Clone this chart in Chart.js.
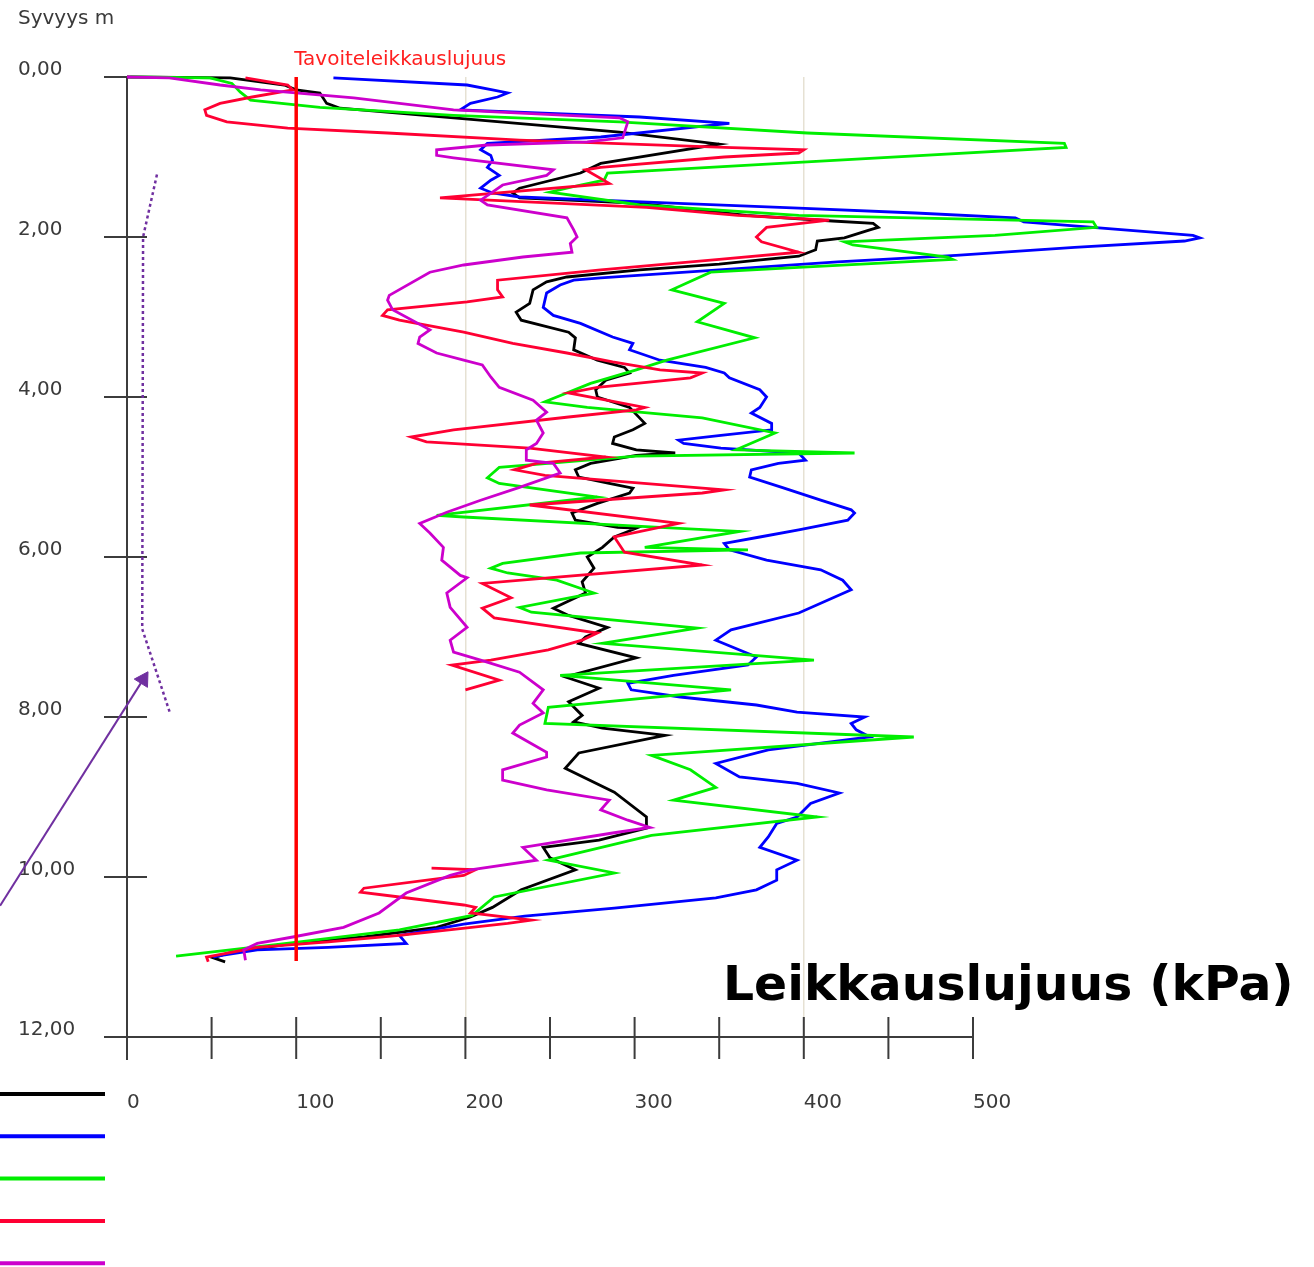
<!DOCTYPE html>
<html>
<head>
<meta charset="utf-8">
<script src="https://cdn.jsdelivr.net/npm/chart.js@4.4.1/dist/chart.umd.min.js"></script>
<style>
  html, body { margin: 0; padding: 0; background: #fff; }
</style>
</head>
<body>
<canvas id="profileChart" width="1314" height="1267"></canvas>
<script>
// [leikkauslujuus kPa, syvyys m]
const black = [[0,0],[61,0.01],[93,0.10],[100,0.16],[114,0.20],[118,0.33],[126,0.39],[291,0.69],[350,0.84],[280,1.08],[268,1.20],[232,1.39],[228,1.45],[232,1.51],[303,1.58],[366,1.73],[417,1.80],[441,1.83],[444,1.88],[439,1.91],[424,2.01],[408,2.05],[407,2.16],[397,2.24],[373,2.29],[350,2.34],[303,2.41],[260,2.50],[248,2.56],[240,2.66],[238,2.83],[230,2.94],[233,3.04],[261,3.19],[265,3.26],[264,3.41],[278,3.54],[294,3.63],[297,3.70],[283,3.79],[277,3.91],[278,4.00],[297,4.13],[306,4.33],[299,4.41],[288,4.50],[287,4.58],[301,4.66],[324,4.70],[301,4.73],[274,4.83],[265,4.91],[267,5.00],[285,5.08],[299,5.14],[297,5.20],[278,5.33],[263,5.45],[265,5.54],[290,5.63],[301,5.64],[288,5.75],[281,5.88],[272,6.00],[276,6.14],[269,6.31],[271,6.45],[252,6.64],[261,6.73],[284,6.88],[271,7.00],[267,7.08],[301,7.26],[259,7.50],[279,7.64],[261,7.81],[269,7.98],[264,8.06],[281,8.14],[318,8.23],[267,8.45],[259,8.64],[288,8.94],[307,9.25],[307,9.39],[279,9.54],[246,9.63],[250,9.76],[265,9.91],[233,10.16],[216,10.38],[203,10.50],[183,10.63],[140,10.75],[98,10.83],[60,10.95],[51,11.01],[58,11.06]];

const blue = [[122,0.01],[201,0.10],[216,0.16],[225,0.20],[219,0.25],[203,0.33],[197,0.41],[303,0.50],[356,0.58],[280,0.75],[213,0.83],[209,0.91],[215,0.98],[216,1.04],[213,1.13],[220,1.23],[215,1.29],[209,1.39],[216,1.45],[232,1.50],[326,1.58],[397,1.64],[466,1.70],[525,1.76],[530,1.81],[630,1.98],[634,2.01],[625,2.05],[560,2.13],[490,2.23],[420,2.31],[350,2.41],[280,2.51],[264,2.54],[256,2.60],[248,2.70],[246,2.88],[252,2.98],[268,3.08],[287,3.25],[299,3.33],[297,3.41],[315,3.54],[342,3.63],[353,3.70],[356,3.76],[374,3.91],[378,4.00],[374,4.13],[369,4.20],[381,4.33],[381,4.41],[351,4.48],[326,4.54],[329,4.58],[351,4.64],[397,4.70],[401,4.79],[385,4.83],[369,4.91],[368,5.00],[387,5.13],[410,5.29],[428,5.41],[430,5.45],[426,5.54],[397,5.66],[374,5.75],[353,5.83],[356,5.91],[378,6.04],[410,6.16],[423,6.29],[428,6.41],[397,6.70],[357,6.91],[348,7.04],[372,7.25],[367,7.35],[323,7.48],[296,7.58],[298,7.66],[327,7.75],[372,7.85],[396,7.94],[436,8.00],[428,8.08],[431,8.16],[439,8.25],[379,8.41],[348,8.58],[362,8.75],[396,8.83],[421,8.95],[404,9.08],[396,9.25],[384,9.33],[379,9.50],[374,9.63],[396,9.79],[384,9.91],[384,10.04],[372,10.16],[348,10.26],[288,10.39],[235,10.49],[199,10.59],[161,10.73],[165,10.83],[119,10.88],[77,10.91],[56,10.98],[51,11.00]];

const green = [[2,0],[49,0.01],[62,0.08],[67,0.19],[73,0.29],[114,0.38],[193,0.48],[291,0.56],[402,0.70],[554,0.83],[555,0.88],[402,1.06],[284,1.20],[282,1.29],[268,1.35],[250,1.44],[303,1.60],[397,1.73],[571,1.81],[573,1.88],[513,1.98],[424,2.06],[429,2.10],[485,2.25],[488,2.28],[397,2.38],[345,2.44],[322,2.66],[353,2.83],[337,3.06],[371,3.26],[319,3.54],[301,3.66],[274,3.83],[247,4.06],[272,4.13],[340,4.26],[383,4.45],[360,4.66],[430,4.70],[301,4.74],[220,4.88],[213,5.01],[220,5.08],[278,5.25],[183,5.48],[199,5.50],[315,5.63],[362,5.68],[306,5.88],[367,5.91],[268,5.95],[222,6.08],[215,6.14],[225,6.20],[254,6.29],[276,6.45],[232,6.63],[239,6.69],[337,6.89],[281,7.08],[406,7.29],[256,7.48],[357,7.66],[249,7.88],[247,8.08],[465,8.25],[310,8.48],[333,8.66],[348,8.88],[323,9.04],[408,9.25],[310,9.48],[249,9.79],[288,9.95],[217,10.25],[204,10.48],[161,10.66],[102,10.81],[29,10.99]];

// red profile has a gap between 7.7 m and 9.9 m
const red = [[70,0.01],[95,0.10],[98,0.16],[74,0.25],[55,0.33],[46,0.41],[47,0.48],[59,0.56],[95,0.64],[154,0.70],[232,0.79],[353,0.88],[400,0.91],[397,0.95],[353,1.00],[280,1.13],[271,1.16],[285,1.33],[185,1.51],[307,1.63],[361,1.73],[415,1.79],[378,1.88],[372,2.00],[375,2.06],[397,2.19],[350,2.28],[280,2.41],[219,2.54],[219,2.66],[222,2.75],[201,2.81],[154,2.91],[151,2.98],[161,3.04],[199,3.19],[228,3.33],[260,3.45],[287,3.56],[315,3.66],[340,3.70],[333,3.76],[278,3.88],[261,3.95],[306,4.13],[301,4.16],[261,4.25],[193,4.41],[168,4.50],[177,4.56],[238,4.64],[283,4.75],[242,4.83],[229,4.91],[247,4.98],[353,5.16],[340,5.20],[238,5.35],[326,5.58],[288,5.75],[294,5.94],[340,6.10],[210,6.33],[227,6.51],[210,6.64],[217,6.76],[278,6.95],[269,7.04],[249,7.16],[215,7.29],[192,7.35],[220,7.54],[200,7.66],[null,null],[180,9.89],[206,9.91],[199,9.98],[140,10.14],[138,10.19],[161,10.25],[199,10.35],[206,10.38],[203,10.45],[239,10.54],[225,10.58],[161,10.73],[119,10.81],[77,10.88],[47,11.00],[48,11.06]];

const purple = [[0,0],[25,0.01],[55,0.10],[79,0.16],[134,0.26],[193,0.41],[291,0.51],[296,0.56],[293,0.76],[272,0.81],[213,0.85],[183,0.91],[183,0.98],[193,1.01],[252,1.16],[248,1.23],[222,1.35],[216,1.44],[209,1.54],[213,1.60],[260,1.76],[264,1.91],[266,2.00],[262,2.08],[263,2.19],[234,2.25],[199,2.35],[179,2.44],[155,2.73],[154,2.79],[157,2.91],[179,3.16],[173,3.25],[172,3.33],[183,3.45],[199,3.54],[210,3.60],[215,3.75],[220,3.88],[240,4.04],[248,4.19],[242,4.29],[246,4.45],[242,4.58],[236,4.66],[236,4.79],[252,4.83],[256,4.95],[232,5.13],[209,5.29],[189,5.44],[173,5.58],[179,5.70],[187,5.88],[186,6.04],[197,6.23],[201,6.26],[189,6.45],[191,6.63],[201,6.88],[191,7.04],[193,7.19],[209,7.29],[232,7.44],[246,7.66],[240,7.83],[246,7.95],[232,8.10],[228,8.20],[248,8.44],[248,8.50],[222,8.66],[222,8.79],[248,8.91],[285,9.04],[280,9.16],[296,9.29],[309,9.38],[287,9.45],[234,9.63],[242,9.79],[203,9.91],[191,9.98],[165,10.20],[149,10.45],[128,10.63],[98,10.75],[77,10.83],[69,10.91],[70,11.04]];

// target shear strength line, hand drawn trend and arrow
const target = [[100,0],[100,11.05]];
const trend = [[17.7,1.22],[9.5,2.0],[9,6.9],[25.4,7.95]];
const arrow = [[-75,10.36],[9.6,7.53]];

const depthTicks = [0, 2, 4, 6, 8, 10, 12];
const kpaTicks = [0, 100, 200, 300, 400, 500];
const targetLabel = 'Tavoiteleikkauslujuus';
const axisTitle = 'Leikkauslujuus (kPa)';
const depthTitle = 'Syvyys m';

const ctx = document.getElementById('profileChart').getContext('2d');
Chart.defaults.font.family = "'DejaVu Sans', Verdana, sans-serif";
Chart.defaults.font.size = 20;
Chart.defaults.color = '#3a3a3a';

const toPoints = rows => rows.map(r => ({ x: r[0], y: r[1] }));

function profile(label, rows, color) {
  return {
    label: label,
    data: toPoints(rows),
    borderColor: color,
    backgroundColor: color,
    borderWidth: 2.8,
    pointRadius: 0,
    clip: false,
    tension: 0
  };
}

// axis lines with ticks crossing the axis
const axisFrame = {
  id: 'axisFrame',
  beforeDatasetsDraw(chart) {
    const { ctx, scales: { x, y } } = chart;
    const x0 = x.getPixelForValue(0), x1 = x.getPixelForValue(500);
    const yTop = y.getPixelForValue(0), yBot = y.getPixelForValue(12);
    ctx.save();
    ctx.strokeStyle = '#3c3c3c';
    ctx.lineWidth = 2;
    ctx.beginPath();
    ctx.moveTo(x0, yTop); ctx.lineTo(x0, yBot + 23);
    ctx.moveTo(x0 - 23, yBot); ctx.lineTo(x1, yBot);
    y.ticks.forEach(t => {
      if (t.value < 12) {
        const py = y.getPixelForValue(t.value);
        ctx.moveTo(x0 - 23, py); ctx.lineTo(x0 + 20, py);
      }
    });
    x.ticks.forEach(t => {
      if (t.value > 0) {
        const px = x.getPixelForValue(t.value);
        ctx.moveTo(px, yBot - 20); ctx.lineTo(px, yBot + 22);
      }
    });
    ctx.stroke();
    ctx.restore();
  }
};

// texts and the unlabeled legend strokes
const captions = {
  id: 'captions',
  afterDraw(chart) {
    const { ctx, scales: { x } } = chart;
    ctx.save();
    ctx.textBaseline = 'alphabetic';
    ctx.textAlign = 'left';
    ctx.font = "20px 'DejaVu Sans'";
    ctx.fillStyle = '#3a3a3a';
    ctx.fillText(depthTitle, 18, 24);
    ctx.fillStyle = '#ff2020';
    ctx.fillText(targetLabel, x.getPixelForValue(target[0][0]) - 2, 65);
    ctx.font = "bold 48.8px 'DejaVu Sans'";
    ctx.fillStyle = '#000';
    ctx.fillText(axisTitle, 723, 1000);

    const rows = ['black', 'blue', 'green', 'red', 'purple'];
    ctx.lineWidth = 4;
    rows.forEach((name, i) => {
      const ds = chart.data.datasets.find(d => d.label === name);
      ctx.strokeStyle = ds.borderColor;
      ctx.beginPath();
      ctx.moveTo(0, 1094 + i * 42.3);
      ctx.lineTo(105, 1094 + i * 42.3);
      ctx.stroke();
    });
    ctx.restore();
  }
};

new Chart(ctx, {
  type: 'line',
  data: {
    datasets: [
      {
        label: 'target',
        data: toPoints(target),
        borderColor: '#ff0000',
        borderWidth: 3.5,
        pointRadius: 0,
        clip: false
      },
      profile('purple', purple, '#cc00cc'),
      profile('red', red, '#ff0033'),
      profile('green', green, '#00ee00'),
      profile('blue', blue, '#0000ff'),
      profile('black', black, '#000000'),
      {
        label: 'trend',
        data: toPoints(trend),
        borderColor: '#7030a0',
        borderWidth: 2.5,
        borderDash: [3, 3],
        pointRadius: 0,
        clip: false
      },
      {
        label: 'arrow',
        data: toPoints(arrow),
        borderColor: '#7030a0',
        backgroundColor: '#7030a0',
        borderWidth: 2,
        pointStyle: 'triangle',
        pointRadius: [0, 9],
        pointRotation: [0, 32],
        pointBorderWidth: 1,
        clip: false
      }
    ]
  },
  options: {
    responsive: false,
    animation: false,
    events: [],
    layout: { padding: { left: 18, right: 341, top: 77, bottom: 0 } },
    plugins: {
      legend: { display: false },
      tooltip: { enabled: false }
    },
    scales: {
      x: {
        type: 'linear',
        min: 0,
        max: 500,
        afterFit: scale => { scale.height = 230; },
        border: { display: false },
        grid: {
          drawTicks: false,
          lineWidth: 1.5,
          color: c => (c.tick && (c.tick.value === 200 || c.tick.value === 400)) ? '#e6e1d3' : 'rgba(0,0,0,0)'
        },
        ticks: {
          stepSize: 50,
          autoSkip: false,
          maxRotation: 0,
          align: 'start',
          padding: 54,
          color: '#3a3a3a',
          callback: v => kpaTicks.includes(v) ? String(v) : ''
        }
      },
      y: {
        type: 'linear',
        reverse: true,
        min: 0,
        max: 12,
        afterFit: scale => { scale.width = 109; },
        border: { display: false },
        grid: { display: false, drawTicks: false },
        ticks: {
          stepSize: 2,
          crossAlign: 'far',
          labelOffset: -7,
          padding: 0,
          color: '#3a3a3a',
          callback: v => depthTicks.includes(v) ? v.toFixed(2).replace('.', ',') : ''
        }
      }
    }
  },
  plugins: [axisFrame, captions]
});
</script>
</body>
</html>
